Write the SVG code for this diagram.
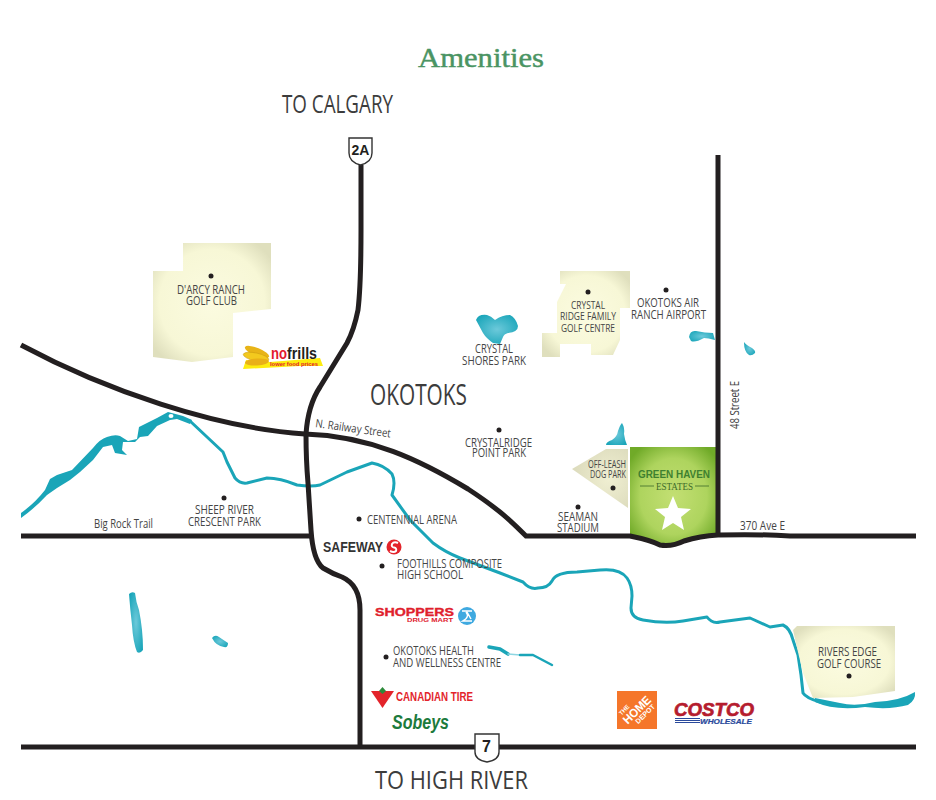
<svg xmlns="http://www.w3.org/2000/svg" width="936" height="800" viewBox="0 0 936 800">
<style>
text{font-family:"Open Sans","Noto Sans","Liberation Sans",sans-serif;fill:#454545}
.l{font-size:13px}
.s{font-size:11.5px}
.big{font-size:26px;fill:#3c3c3c}
.b{font-weight:700;font-family:"Liberation Sans",Arial,sans-serif}
.road{fill:none;stroke:#231f20;stroke-width:5}
.riv{fill:none;stroke:#1aa5b8;stroke-width:3;stroke-linejoin:round;stroke-linecap:round}
.lake{fill:url(#lakeG)}
.golf{fill:url(#golfG)}
.dot{fill:#231f20}
.shield{fill:#fff;stroke:#333;stroke-width:1.4}
</style>
<defs>
<radialGradient id="golfG" cx="50%" cy="50%" r="62%"><stop offset="0" stop-color="#fbfbe0"/><stop offset=".72" stop-color="#f7f7d6"/><stop offset="1" stop-color="#dfdfbd"/></radialGradient>
<radialGradient id="parkG" cx="65%" cy="50%" r="65%"><stop offset="0" stop-color="#f0efd2"/><stop offset="1" stop-color="#dcdbbc"/></radialGradient>
<radialGradient id="lakeG" cx="50%" cy="50%" r="60%"><stop offset="0" stop-color="#6cc9da"/><stop offset="1" stop-color="#1ba6ba"/></radialGradient>
<radialGradient id="greenG" cx="50%" cy="50%" r="62%"><stop offset="0" stop-color="#c3df73"/><stop offset=".62" stop-color="#aed45e"/><stop offset="1" stop-color="#70aa28"/></radialGradient>
</defs>

<text id="title" x="418" y="67" textLength="126" lengthAdjust="spacingAndGlyphs" style="font-family:'Liberation Serif',serif;font-size:28px;fill:#4a9463;stroke:#4a9463;stroke-width:.45">Amenities</text>

<g id="water">
<path style="fill:#1aa5b8" d="M21 513Q35 503 45 490L50 479 57 475 72 470 93 448Q100 439 107 437 115 434 120 436L128 441 137 439 139 427 157 418 168 412 183 416 192 420 190 424 177 419 170 420 157 426 148 436 140 437 135 442 123 442 122 450 127 455 115 453 112 445 103 447 93 460 80 472 70 480 57 488 47 495Q35 508 21 518Z"/>
<ellipse cx="171" cy="416" rx="2.500" ry="2" fill="#fff"/>
<path class="riv" d="M190 421 223 452 227 462 235 478Q240 484 247 483L267 478Q280 478 297 485 312 487 320 485L347 472 372 463Q384 465 392 474 396 482 392 495L410 520 420 530 433 543Q445 552 460 558L500 573 523 582Q530 590 538 588 548 588 552 581 556 572 577 572L600 570Q620 568 627 578 632 585 632 596L631 608Q631 618 643 620 665 624 683 621L707 617Q712 624 720 622L750 618 770 627 783 625Q790 628 793 640L798 655 801 675 803 693Q806 698 820 702"/>
<path style="fill:#1aa5b8" d="M815 698 840 703Q855 707 875 702 900 701 915 692 916 700 908 705 890 710 865 707 835 711 815 702Z"/>
<path class="lake" d="M476 320Q478 314 487 315 491 316 495 320 502 315 510 315 516 318 518 326 518 332 508 333 504 334 503 337L500 344 493 343Q486 338 483 333Z"/>
<path class="lake" d="M689 337Q690 330 696 331 705 333 713 333L715 340Q708 338 704 338 695 343 691 341Z"/>
<path class="lake" d="M744 342Q746 345 752 348 756 351 755 353 752 356 749 355 744 352 744 342Z"/>
<path class="lake" d="M622 423Q625 428 624 434 625 441 627 445H606Q606 442 612 440 617 437 618 431 620 425 622 423Z"/>
<path class="lake" d="M129 594Q132 591 135 593 136 602 139 610 143 630 143 650 140 654 137 652 133 642 132 625 130 608 129 594Z"/>
<path class="lake" d="M212 638Q215 634 219 637L228 643Q228 648 224 647 216 646 212 638Z"/>
<path class="riv" d="M489 647 500 649 508 654" style="stroke-width:3.500"/>
<path class="riv" d="M508 654 520 655" style="stroke:#8ed6e2;stroke-width:1.500"/>
<path class="riv" d="M520 655 533 655 552 665" style="stroke-width:2.500"/>
</g>

<g id="green-haven">
<path d="M630 447H717V536Q690 536 672 544 660 548 650 543L630 537Z" fill="url(#greenG)"/>
<text class="b" x="638" y="478" textLength="72" lengthAdjust="spacingAndGlyphs" style="font-size:11.500px;fill:#3f8030">GREEN HAVEN</text>
<text x="656" y="490" textLength="37" lengthAdjust="spacingAndGlyphs" style="font-family:'Liberation Serif',serif;font-size:9.500px;fill:#3d6b2a">ESTATES</text>
<path d="M640 486H654M695 486H709" stroke="#3d6b2a" stroke-width=".8"/>
<polygon points="673,496 678,508 691,509 681,517 684,530 673,523 662,530 665,517 655,509 668,508" fill="#fff"/>
</g>

<g id="connectors">
<path class="road" d="M361 165V230Q361 285 358 310 354 330 347 343L320 387Q308 405 306 434 306 460 308 483L311 530Q313 560 323 568 333 574 342 577 360 585 360 610V747"/>
<path class="road" d="M21 345C105 390 215 428 305 434 370 436 420 460 468 489 500 510 512 522 526 536H630Q650 540 660 545 672 547 684 541 700 536 718 535 760 534 790 536H916"/>
<path class="road" d="M21 536H312"/>
<path class="road" d="M718 155V536"/>
<path class="road" d="M21 747H916"/>
</g>

<g id="shield-2a"><path class="shield" d="M349 138H372V153Q372 162 360.500 165 349 162 349 153Z"/><text class="b" x="360.500" y="154.500" text-anchor="middle" style="font-size:14px;fill:#231f20">2A</text></g>
<g id="shield-7"><path class="shield" d="M475 734H499V752Q499 760 487 762 475 760 475 752Z"/><text class="b" x="486.500" y="752" text-anchor="middle" style="font-size:16px;fill:#231f20">7</text></g>

<g id="to-calgary"><text class="big" x="282" y="113" textLength="111" lengthAdjust="spacingAndGlyphs">TO CALGARY</text></g>
<g id="to-high-river"><text class="big" x="375" y="789" textLength="153" lengthAdjust="spacingAndGlyphs">TO HIGH RIVER</text></g>
<g id="okotoks"><text x="370" y="405" textLength="97" lengthAdjust="spacingAndGlyphs" style="font-size:29px;fill:#3c3c3c">OKOTOKS</text></g>

<g id="darcy">
<polygon class="golf" points="183,243 271,243 271,309 233,313 233,357 192,362 153,357 153,271 183,271"/>
<circle class="dot" cx="211" cy="276" r="2.500"/>
<text class="l" x="177" y="294" textLength="68" lengthAdjust="spacingAndGlyphs">D'ARCY RANCH</text>
<text class="l" x="186" y="305" textLength="51" lengthAdjust="spacingAndGlyphs">GOLF CLUB</text>
</g>
<g id="nofrills">
<polygon points="246,360 270,362 320,358 323,366 300,366 243,369" fill="#fdec0f"/>
<ellipse cx="257" cy="352" rx="13" ry="4" transform="rotate(22 257 352)" fill="#e8b417"/>
<ellipse cx="256" cy="357" rx="13" ry="4" transform="rotate(12 256 357)" fill="#f3c91e" stroke="#c8960f" stroke-width=".5"/>
<ellipse cx="257" cy="362" rx="12" ry="3.500" transform="rotate(-4 257 362)" fill="#e9b017"/>
<text class="b" x="271" y="359" textLength="16" lengthAdjust="spacingAndGlyphs" style="font-size:17px;fill:#e3182d">no</text>
<text class="b" x="287" y="359" textLength="30" lengthAdjust="spacingAndGlyphs" style="font-size:17px;fill:#231f20">frills</text>
<text class="b" x="270" y="366" textLength="48" lengthAdjust="spacingAndGlyphs" style="font-size:5px;fill:#e3182d">lower food prices</text>
</g>
<g id="railway"><text transform="translate(315 427) rotate(8)" class="s" textLength="76" lengthAdjust="spacingAndGlyphs">N. Railway Street</text></g>
<g id="sheep-river">
<circle class="dot" cx="224" cy="498" r="2.500"/>
<text class="l" x="195" y="514" textLength="59" lengthAdjust="spacingAndGlyphs">SHEEP RIVER</text>
<text class="l" x="188" y="526" textLength="73" lengthAdjust="spacingAndGlyphs">CRESCENT PARK</text>
</g>
<g id="big-rock"><text class="l" x="94" y="528" textLength="59" lengthAdjust="spacingAndGlyphs">Big Rock Trail</text></g>
<g id="crystal-shores">
<text class="l" x="475" y="353" textLength="38" lengthAdjust="spacingAndGlyphs">CRYSTAL</text>
<text class="l" x="462" y="365" textLength="64" lengthAdjust="spacingAndGlyphs">SHORES PARK</text>
</g>
<g id="crystal-ridge">
<polygon class="golf" points="560,271 630,271 630,308 620,308 620,340 613,355 591,355 591,344 560,344 560,357 542,357 542,333 557,333 557,302 566,284 560,284"/>
<circle class="dot" cx="588" cy="292" r="2.500"/>
<text class="s" x="571" y="309" textLength="34" lengthAdjust="spacingAndGlyphs">CRYSTAL</text>
<text class="s" x="560" y="320" textLength="56" lengthAdjust="spacingAndGlyphs">RIDGE FAMILY</text>
<text class="s" x="561" y="332" textLength="54" lengthAdjust="spacingAndGlyphs">GOLF CENTRE</text>
</g>
<g id="airport">
<circle class="dot" cx="666" cy="290" r="2.500"/>
<text class="l" x="637" y="307" textLength="62" lengthAdjust="spacingAndGlyphs">OKOTOKS AIR</text>
<text class="l" x="631" y="319" textLength="75" lengthAdjust="spacingAndGlyphs">RANCH AIRPORT</text>
</g>
<g id="street-48"><text class="l" transform="translate(739 429) rotate(-90)" textLength="48" lengthAdjust="spacingAndGlyphs">48 Street E</text></g>
<g id="ave-370"><text class="l" x="740" y="530" textLength="45" lengthAdjust="spacingAndGlyphs">370 Ave E</text></g>
<g id="crystalridge-point">
<circle class="dot" cx="499" cy="430" r="2.500"/>
<text class="l" x="465" y="447" textLength="67" lengthAdjust="spacingAndGlyphs">CRYSTALRIDGE</text>
<text class="l" x="472" y="457" textLength="54" lengthAdjust="spacingAndGlyphs">POINT PARK</text>
</g>
<g id="dog-park">
<polygon points="606,449 628,449 628,508 572,469" fill="url(#parkG)"/>
<circle class="dot" cx="613" cy="488" r="2.500"/>
<text class="s" x="588" y="468" textLength="38" lengthAdjust="spacingAndGlyphs" style="font-size:10.500px">OFF-LEASH</text>
<text class="s" x="590" y="478" textLength="36" lengthAdjust="spacingAndGlyphs" style="font-size:10.500px">DOG PARK</text>
</g>
<g id="seaman">
<circle class="dot" cx="578" cy="507" r="2.500"/>
<text class="l" x="558" y="521" textLength="40" lengthAdjust="spacingAndGlyphs">SEAMAN</text>
<text class="l" x="557" y="532" textLength="42" lengthAdjust="spacingAndGlyphs">STADIUM</text>
</g>
<g id="centennial">
<circle class="dot" cx="359" cy="519" r="2.500"/>
<text class="l" x="367" y="524" textLength="90" lengthAdjust="spacingAndGlyphs">CENTENNIAL ARENA</text>
</g>
<g id="safeway">
<text class="b" x="323" y="552" textLength="60" lengthAdjust="spacingAndGlyphs" style="font-size:14px;fill:#333">SAFEWAY</text>
<circle cx="394" cy="547" r="7.500" fill="#e3242b"/>
<path d="M398 543Q394 541 392 544 391 547 394 547.500 397 548 396 551 394 553 390 551" fill="none" stroke="#fff" stroke-width="2"/>
</g>
<g id="foothills">
<circle class="dot" cx="382" cy="566" r="2.500"/>
<text class="l" x="397" y="568" textLength="105" lengthAdjust="spacingAndGlyphs">FOOTHILLS COMPOSITE</text>
<text class="l" x="397" y="579" textLength="66" lengthAdjust="spacingAndGlyphs">HIGH SCHOOL</text>
</g>
<g id="shoppers">
<text class="b" x="375" y="616" textLength="79" lengthAdjust="spacingAndGlyphs" style="font-size:10px;fill:#e0202c;stroke:#e0202c;stroke-width:.3">SHOPPERS</text>
<text class="b" x="407" y="622" textLength="46" lengthAdjust="spacingAndGlyphs" style="font-size:5.500px;fill:#e0202c">DRUG MART</text>
<circle cx="467" cy="616" r="9" fill="#3fa9e0"/>
<path d="M462 611H472M466 612Q470 617 463 621H472M467 612 471 619" fill="none" stroke="#fff" stroke-width="1.500"/>
</g>
<g id="health">
<circle class="dot" cx="386" cy="657" r="2.500"/>
<text class="l" x="393" y="655" textLength="81" lengthAdjust="spacingAndGlyphs">OKOTOKS HEALTH</text>
<text class="l" x="393" y="667" textLength="108" lengthAdjust="spacingAndGlyphs">AND WELLNESS CENTRE</text>
</g>
<g id="canadian-tire">
<polygon points="371,691 394,691 382.500,708" fill="#e3242b"/>
<path d="M382.500 687 386 691 382.500 694 379 691Z" fill="#2c8a3a"/>
<text class="b" x="396" y="701" textLength="77" lengthAdjust="spacingAndGlyphs" style="font-size:12px;fill:#e3242b">CANADIAN TIRE</text>
</g>
<g id="sobeys"><text x="392" y="729" textLength="57" lengthAdjust="spacingAndGlyphs" style="font-family:'Liberation Sans',sans-serif;font-weight:700;font-style:italic;font-size:20px;fill:#1c7a3c">Sobeys</text></g>
<g id="home-depot">
<rect x="617" y="691" width="40" height="38" fill="#f5762a"/>
<g transform="translate(637 710) rotate(-45)">
<text class="b" y="-7" x="-9" text-anchor="middle" style="font-size:6px;fill:#fff">THE</text>
<text class="b" y="4" text-anchor="middle" textLength="34" lengthAdjust="spacingAndGlyphs" style="font-size:12px;fill:#fff">HOME</text>
<text class="b" y="11" x="3" text-anchor="middle" style="font-size:7px;fill:#fff">DEPOT</text>
</g>
</g>
<g id="costco">
<text x="674" y="716" textLength="80" lengthAdjust="spacingAndGlyphs" style="font-family:'Liberation Sans',sans-serif;font-weight:700;font-style:italic;font-size:19px;fill:#b51c2e;stroke:#b51c2e;stroke-width:.7">COSTCO</text>
<path d="M675 718.500H700M675 720.500H700M675 722.500H700" stroke="#2a4a9c" stroke-width="1"/>
<text class="b" x="700" y="723.500" textLength="52" lengthAdjust="spacingAndGlyphs" style="font-size:7px;font-style:italic;fill:#2a4a9c;stroke:#2a4a9c;stroke-width:.2">WHOLESALE</text>
</g>
<g id="rivers-edge">
<polygon class="golf" points="793,630 797,626 895,626 895,691 853,697 813,698 803,673 798,652"/>
<circle class="dot" cx="849" cy="676" r="2.500"/>
<text class="l" x="818" y="656" textLength="59" lengthAdjust="spacingAndGlyphs">RIVERS EDGE</text>
<text class="l" x="817" y="668" textLength="64" lengthAdjust="spacingAndGlyphs">GOLF COURSE</text>
</g>
</svg>
